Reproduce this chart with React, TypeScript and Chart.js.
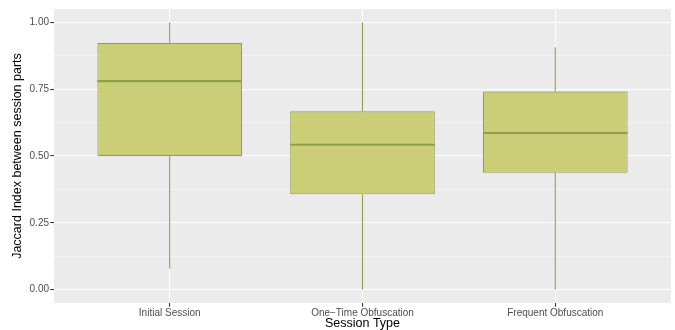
import { useEffect, useRef } from "react";
import { Chart, registerables } from "chart.js";

Chart.register(...registerables);

// Session types on the x axis
const categories = ["Initial Session", "One\u2212Time Obfuscation", "Frequent Obfuscation"];

// Five-number summaries of the Jaccard index per session type
const lowerWhisker = [0.078, 0.0, 0.0];
const q1 = [0.5, 0.357, 0.437];
const median = [0.78, 0.542, 0.586];
const q3 = [0.923, 0.667, 0.741];
const upperWhisker = [1.0, 1.0, 0.907];

// Axis ticks
const yMajorTicks = [0, 0.25, 0.5, 0.75, 1.0];
const yMinorTicks = [0.125, 0.375, 0.625, 0.875];
const xPositions = [1, 2, 3];

const FILL = "#cbce77";
const LINE = "#8c9f4c";
const PANEL = "#ebebeb";

const isMajor = (v: number) => yMajorTicks.some((t) => Math.abs(t - v) < 1e-9);

// Grey plotting panel behind the grid
const panelPlugin = {
  id: "panelBg",
  beforeDraw(chart: any) {
    const { ctx, chartArea } = chart;
    ctx.save();
    ctx.fillStyle = PANEL;
    ctx.fillRect(chartArea.left, chartArea.top, chartArea.right - chartArea.left, chartArea.bottom - chartArea.top);
    ctx.restore();
  },
};

// Whiskers behind the boxes, medians on top of them
const boxPlugin = {
  id: "boxParts",
  beforeDatasetsDraw(chart: any) {
    const { ctx, scales } = chart;
    const xs = scales.x;
    const ys = scales.y;
    ctx.save();
    ctx.strokeStyle = LINE;
    ctx.lineWidth = 1.07;
    xPositions.forEach((xv, i) => {
      const px = xs.getPixelForValue(xv);
      ctx.beginPath();
      ctx.moveTo(px, ys.getPixelForValue(upperWhisker[i]));
      ctx.lineTo(px, ys.getPixelForValue(q3[i]));
      ctx.moveTo(px, ys.getPixelForValue(q1[i]));
      ctx.lineTo(px, ys.getPixelForValue(lowerWhisker[i]));
      ctx.stroke();
    });
    ctx.restore();
  },
  afterDatasetsDraw(chart: any) {
    const { ctx, scales } = chart;
    const meta = chart.getDatasetMeta(0);
    const ys = scales.y;
    ctx.save();
    ctx.strokeStyle = LINE;
    ctx.lineWidth = 2.1;
    meta.data.forEach((bar: any, i: number) => {
      const { x, width } = bar.getProps(["x", "width"], true);
      const py = ys.getPixelForValue(median[i]);
      ctx.beginPath();
      ctx.moveTo(x - width / 2, py);
      ctx.lineTo(x + width / 2, py);
      ctx.stroke();
    });
    ctx.restore();
  },
};

export default function App() {
  const canvasRef = useRef<HTMLCanvasElement | null>(null);

  useEffect(() => {
    if (!canvasRef.current) return;
    const chart = new Chart(canvasRef.current, {
      type: "bar",
      data: {
        datasets: [
          {
            data: xPositions.map((xv, i) => ({ x: xv, y: [q1[i], q3[i]] })) as any,
            backgroundColor: FILL,
            borderColor: LINE,
            borderWidth: 1.07,
            borderSkipped: false,
            barPercentage: 1,
            categoryPercentage: 0.75,
          },
        ],
      },
      options: {
        animation: false,
        responsive: false,
        maintainAspectRatio: false,
        layout: { padding: { top: 9, right: 4, left: 0, bottom: 0 } },
        plugins: { legend: { display: false }, tooltip: { enabled: false } },
        scales: {
          x: {
            type: "linear",
            min: 0.4,
            max: 3.6,
            offset: false,
            afterBuildTicks: (scale: any) => {
              scale.ticks = xPositions.map((v) => ({ value: v }));
            },
            afterFit: (scale: any) => {
              scale.height = 27;
            },
            border: { display: false },
            grid: {
              offset: false,
              color: "#ffffff",
              lineWidth: 1.07,
              tickLength: 3.7,
              tickColor: "#333333",
              tickWidth: 1.07,
            },
            ticks: {
              autoSkip: false,
              maxRotation: 0,
              padding: 1,
              color: "#4d4d4d",
              font: { family: "'Liberation Sans', Arial, sans-serif", size: 10 },
              callback: (v: any) => categories[Math.round(Number(v)) - 1] ?? "",
            },
            title: {
              display: true,
              text: "Session Type",
              color: "#000000",
              font: { family: "'Liberation Sans', Arial, sans-serif", size: 12.5 },
              padding: { top: 0, bottom: -1 },
            },
          },
          y: {
            type: "linear",
            min: -0.05,
            max: 1.05,
            afterBuildTicks: (scale: any) => {
              scale.ticks = [...yMajorTicks, ...yMinorTicks].sort((a, b) => a - b).map((v) => ({ value: v }));
            },
            afterFit: (scale: any) => {
              scale.width = 54;
            },
            border: { display: false },
            grid: {
              color: "#ffffff",
              lineWidth: (c: any) => (isMajor(c.tick?.value) ? 1.07 : 0.53),
              tickLength: 3.7,
              tickColor: (c: any) => (isMajor(c.tick?.value) ? "#333333" : "rgba(0,0,0,0)"),
              tickWidth: 1.07,
            },
            ticks: {
              autoSkip: false,
              padding: 1.3,
              color: "#4d4d4d",
              font: { family: "'Liberation Sans', Arial, sans-serif", size: 10 },
              callback: (v: any) => (isMajor(Number(v)) ? Number(v).toFixed(2) : ""),
            },
            title: {
              display: true,
              text: "Jaccard Index between session parts",
              color: "#000000",
              font: { family: "'Liberation Sans', Arial, sans-serif", size: 12.5 },
              padding: { top: 10.5, bottom: 0 },
            },
          },
        },
      },
      plugins: [panelPlugin, boxPlugin],
    });
    return () => chart.destroy();
  }, []);

  return (
    <div style={{ position: "fixed", left: 0, top: 0, width: 675, height: 330, background: "#ffffff" }}>
      <canvas ref={canvasRef} width={675} height={330} style={{ width: 675, height: 330, display: "block" }} />
    </div>
  );
}
